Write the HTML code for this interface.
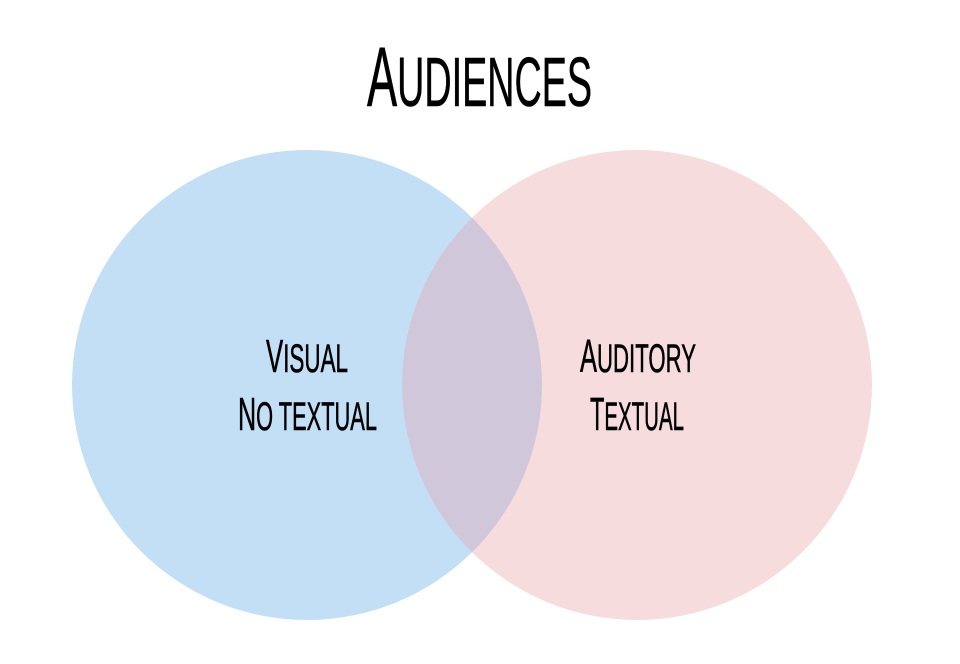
<!DOCTYPE html>
<html><head><meta charset="utf-8"><style>html,body{margin:0;padding:0;background:#fff}svg{display:block}</style></head>
<body>
<svg width="960" height="664" viewBox="0 0 960 664" xmlns="http://www.w3.org/2000/svg">
<defs><clipPath id="c"><circle cx="307" cy="385" r="235"/></clipPath></defs>
<circle cx="307" cy="385" r="235" fill="#c3dff6"/>
<circle cx="637" cy="385" r="235" fill="#f6dcdd"/>
<circle cx="637" cy="385" r="235" fill="#d0c8da" clip-path="url(#c)"/>
<g font-family="Liberation Sans, sans-serif" fill="#000" stroke="#000" stroke-width="0.6">
<text x="367" y="106" font-size="70" textLength="225" lengthAdjust="spacingAndGlyphs"><tspan font-size="84">A</tspan>UDIENCES</text>
<text x="266" y="372" font-size="40" textLength="82" lengthAdjust="spacingAndGlyphs"><tspan font-size="46">V</tspan>ISUAL</text>
<text x="238" y="430" font-size="40" textLength="139" lengthAdjust="spacingAndGlyphs"><tspan font-size="46">N</tspan>O TEXTUAL</text>
<text x="580" y="372" font-size="40" textLength="116" lengthAdjust="spacingAndGlyphs"><tspan font-size="46">A</tspan>UDITORY</text>
<text x="590" y="430" font-size="40" textLength="94" lengthAdjust="spacingAndGlyphs"><tspan font-size="46">T</tspan>EXTUAL</text>
</g>
</svg>
</body></html>
